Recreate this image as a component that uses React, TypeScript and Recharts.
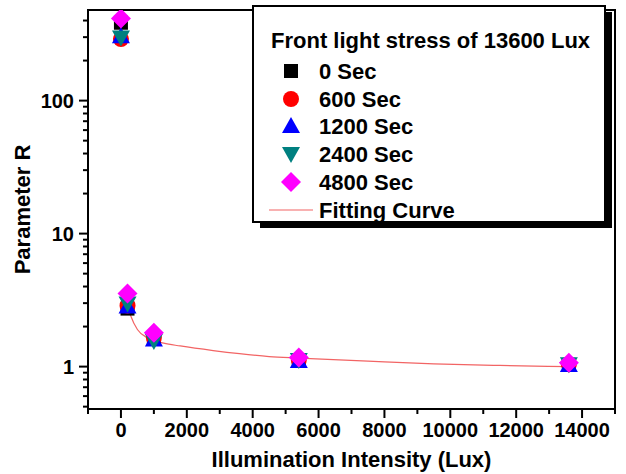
import React from "react";
import { ComposedChart, Scatter, Line, XAxis, YAxis, ReferenceArea } from "recharts";

// Illumination intensity (Lux) at which R was measured
const lux = [0, 200, 1000, 5400, 13600];

// Parameter R after each stress duration
const r0s = [385, 2.73, 1.62, 1.11, 1.03];
const r600s = [290, 2.87, 1.65, 1.12, 1.04];
const r1200s = [305, 2.83, 1.6, 1.1, 1.03];
const r2400s = [298, 2.98, 1.56, 1.12, 1.04];
const r4800s = [415, 3.54, 1.8, 1.17, 1.07];

// fitted curve samples
const fitLux = [200, 300, 500, 800, 1300, 1800, 2800, 3600, 4500, 5400, 7500, 9500, 11500, 13600];
const fitR = [2.9, 2.4, 1.9, 1.65, 1.5, 1.43, 1.32, 1.25, 1.19, 1.16, 1.1, 1.05, 1.02, 1.0];

const xTicks = [-1000, 0, 1000, 2000, 3000, 4000, 5000, 6000, 7000, 8000, 9000, 10000, 11000, 12000, 13000, 14000, 15000];
const xLabels = [0, 2000, 4000, 6000, 8000, 10000, 12000, 14000];
const yTicks = [
  0.5, 0.6, 0.7, 0.8, 0.9, 1, 2, 3, 4, 5, 6, 7, 8, 9, 10, 20, 30, 40, 50, 60, 70, 80, 90, 100, 200, 300, 400,
];
const yLabels = [1, 10, 100];

const legendTitle = "Front light stress of 13600 Lux";

type Kind = "square" | "circle" | "triangle" | "down" | "diamond";

const series: { name: string; color: string; kind: Kind; values: number[] }[] = [
  { name: "0 Sec", color: "#000000", kind: "square", values: r0s },
  { name: "600 Sec", color: "#ff0000", kind: "circle", values: r600s },
  { name: "1200 Sec", color: "#0000ff", kind: "triangle", values: r1200s },
  { name: "2400 Sec", color: "#008080", kind: "down", values: r2400s },
  { name: "4800 Sec", color: "#ff00ff", kind: "diamond", values: r4800s },
];

const FONT = "'Liberation Sans', Arial, sans-serif";

const Marker = ({ kind, cx, cy, color }: { kind: Kind; cx: number; cy: number; color: string }) => {
  switch (kind) {
    case "square":
      return <rect x={cx - 7} y={cy - 7} width={14} height={14} fill={color} />;
    case "circle":
      return <circle cx={cx} cy={cy} r={8} fill={color} />;
    case "triangle":
      return <polygon points={`${cx},${cy - 9} ${cx + 9},${cy + 7} ${cx - 9},${cy + 7}`} fill={color} />;
    case "down":
      return <polygon points={`${cx - 9},${cy - 7} ${cx + 9},${cy - 7} ${cx},${cy + 9}`} fill={color} />;
    default:
      return <polygon points={`${cx},${cy - 10} ${cx + 10},${cy} ${cx},${cy + 10} ${cx - 10},${cy}`} fill={color} />;
  }
};

const YTick = (props: any) => {
  const { x, y, payload } = props;
  const major = yLabels.includes(payload.value);
  return (
    <g>
      <line x1={x} x2={x - (major ? 9 : 5)} y1={y} y2={y} stroke="#000" strokeWidth={2} />
      {major && (
        <text x={x - 14} y={y} dy="0.36em" textAnchor="end" fontFamily={FONT} fontWeight="bold" fontSize={20} fill="#000">
          {payload.value}
        </text>
      )}
    </g>
  );
};

const XTick = (props: any) => {
  const { x, y, payload } = props;
  const major = xLabels.includes(payload.value);
  return (
    <g>
      <line x1={x} x2={x} y1={y} y2={y + (major ? 9 : 5)} stroke="#000" strokeWidth={2} />
      {major && (
        <text x={x} y={y + 28} textAnchor="middle" fontFamily={FONT} fontWeight="bold" fontSize={20} fill="#000">
          {payload.value}
        </text>
      )}
    </g>
  );
};

const LegendBox = () => {
  const rowY = [71, 99, 126, 154, 182, 210];
  return (
    <svg width={626} height={474} style={{ position: "absolute", left: 0, top: 0, pointerEvents: "none" }}>
      <rect x={260} y={12} width={352} height={216} fill="#000" />
      <rect x={253} y={6} width={352} height={216} fill="#fff" stroke="#000" strokeWidth={2} />
      <text x={271} y={48} fontFamily={FONT} fontWeight="bold" fontSize={22} fill="#000">
        {legendTitle}
      </text>
      {series.map((s, i) => (
        <g key={s.name}>
          <Marker kind={s.kind} cx={291} cy={rowY[i]} color={s.color} />
          <text x={319} y={rowY[i] + 8} fontFamily={FONT} fontWeight="bold" fontSize={22} fill="#000">
            {s.name}
          </text>
        </g>
      ))}
      <line x1={269} x2={313} y1={rowY[5]} y2={rowY[5]} stroke="#f26464" strokeWidth={1.2} />
      <text x={319} y={rowY[5] + 8} fontFamily={FONT} fontWeight="bold" fontSize={22} fill="#000">
        Fitting Curve
      </text>
    </svg>
  );
};

export default function App() {
  const fitData = fitLux.map((x, i) => ({ lux: x, r: fitR[i] }));
  return (
    <div style={{ position: "absolute", left: 0, top: 0, width: 626, height: 474, background: "#fff" }}>
      <ComposedChart width={626} height={474} margin={{ top: 10, right: 11, left: 0, bottom: 0 }}>
        <XAxis
          dataKey="lux"
          type="number"
          domain={[-1000, 15000]}
          ticks={xTicks}
          interval={0}
          tick={<XTick />}
          tickSize={0}
          tickMargin={0}
          tickLine={false}
          height={65}
          axisLine={{ stroke: "#000", strokeWidth: 2 }}
          allowDataOverflow
          label={{
            value: "Illumination Intensity (Lux)",
            position: "insideBottom",
            offset: 7,
            style: { fontFamily: FONT, fontWeight: "bold", fontSize: 22, fill: "#000" },
          }}
        />
        <YAxis
          type="number"
          scale="log"
          domain={[0.48, 480]}
          ticks={yTicks}
          interval={0}
          tick={<YTick />}
          tickSize={0}
          tickMargin={0}
          tickLine={false}
          width={88}
          axisLine={{ stroke: "#000", strokeWidth: 2 }}
          allowDataOverflow
          label={{
            value: "Parameter R",
            angle: -90,
            position: "insideLeft",
            offset: 22,
            style: { textAnchor: "middle", fontFamily: FONT, fontWeight: "bold", fontSize: 22, fill: "#000" },
          }}
        />
        <ReferenceArea x1={-1000} x2={15000} y1={0.48} y2={480} fill="none" stroke="#000" strokeWidth={2} />
        {series.map((s) => (
          <Scatter
            key={s.name}
            name={s.name}
            data={lux.map((x, i) => ({ lux: x, r: s.values[i] }))}
            dataKey="r"
            isAnimationActive={false}
            shape={(p: any) => <Marker kind={s.kind} cx={p.cx} cy={p.cy} color={s.color} />}
          />
        ))}
        <Line
          data={fitData}
          dataKey="r"
          type="monotone"
          stroke="#f26464"
          strokeWidth={1.2}
          dot={false}
          isAnimationActive={false}
        />
      </ComposedChart>
      <LegendBox />
    </div>
  );
}
